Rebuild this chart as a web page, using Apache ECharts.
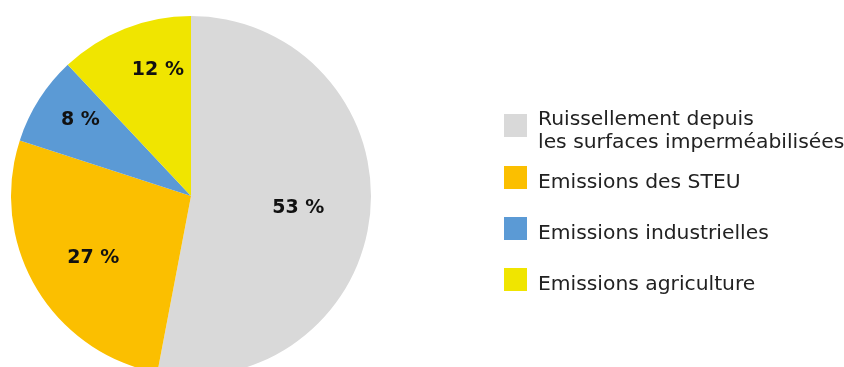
<!DOCTYPE html>
<html><head><meta charset="utf-8">
<script src="https://cdn.jsdelivr.net/npm/echarts@6/dist/echarts.min.js"></script>
<style>html,body{margin:0;padding:0;background:#fff}#c{width:844px;height:367px}</style>
</head><body><div id="c"></div>
<script>
const categories = ['Ruissellement depuis\nles surfaces imperméabilisées', 'Emissions des STEU', 'Emissions industrielles', 'Emissions agriculture'];
const values = [53, 27, 8, 12];
const colors = ['#D9D9D9', '#FBBF00', '#5B9AD5', '#F0E500'];
// label placement style: [radius px, angle offset deg]
const labelPlace = [[105, 1], [113, -2], [131, 2], [127, 7]];
const legendTops = [91.5, 156, 207, 258];
const legendSpacer = [12, 10, 10, 10];

const cx = 191, cy = 196, R = 180;
const total = values.reduce((a, b) => a + b, 0);
const mids = [];
let acc = 0;
values.forEach(v => { mids.push((acc + v / 2) / total * 360); acc += v; });

const chart = echarts.init(document.getElementById('c'), null, {renderer: 'canvas'});
chart.setOption({
  animation: false,
  legend: categories.map((c, i) => ({
    data: [c],
    left: 499,
    top: legendTops[i],
    orient: 'vertical',
    icon: 'rect',
    itemWidth: 23,
    itemHeight: 23,
    itemGap: 10,
    selectedMode: false,
    formatter: name => '{s| }\n' + name.split('\n').map(l => '{t|' + l + '}').join('\n'),
    textStyle: {
      rich: {
        s: {fontSize: 1, lineHeight: legendSpacer[i], height: legendSpacer[i]},
        t: {fontFamily: 'DejaVu Sans', fontSize: 20.3, color: '#222', lineHeight: 23, padding: [0, 0, 0, 6]}
      }
    }
  })),
  series: [{
    type: 'pie',
    center: [cx, cy],
    radius: [0, R],
    startAngle: 90,
    clockwise: true,
    silent: true,
    data: categories.map((c, i) => ({name: c, value: values[i], itemStyle: {color: colors[i]}})),
    label: {
      show: true,
      position: 'inside',
      formatter: p => p.value + ' %',
      fontFamily: 'DejaVu Sans',
      fontWeight: 'bold',
      fontSize: 19,
      color: '#111'
    },
    labelLayout: function (p) {
      const i = p.dataIndex;
      const a0 = mids[i] * Math.PI / 180;
      const a1 = (mids[i] + labelPlace[i][1]) * Math.PI / 180;
      const r0 = R / 2, r1 = labelPlace[i][0];
      const dx = r1 * Math.sin(a1) - r0 * Math.sin(a0);
      const dy = -r1 * Math.cos(a1) + r0 * Math.cos(a0);
      return {dx: dx, dy: dy};
    }
  }]
});
</script></body></html>
